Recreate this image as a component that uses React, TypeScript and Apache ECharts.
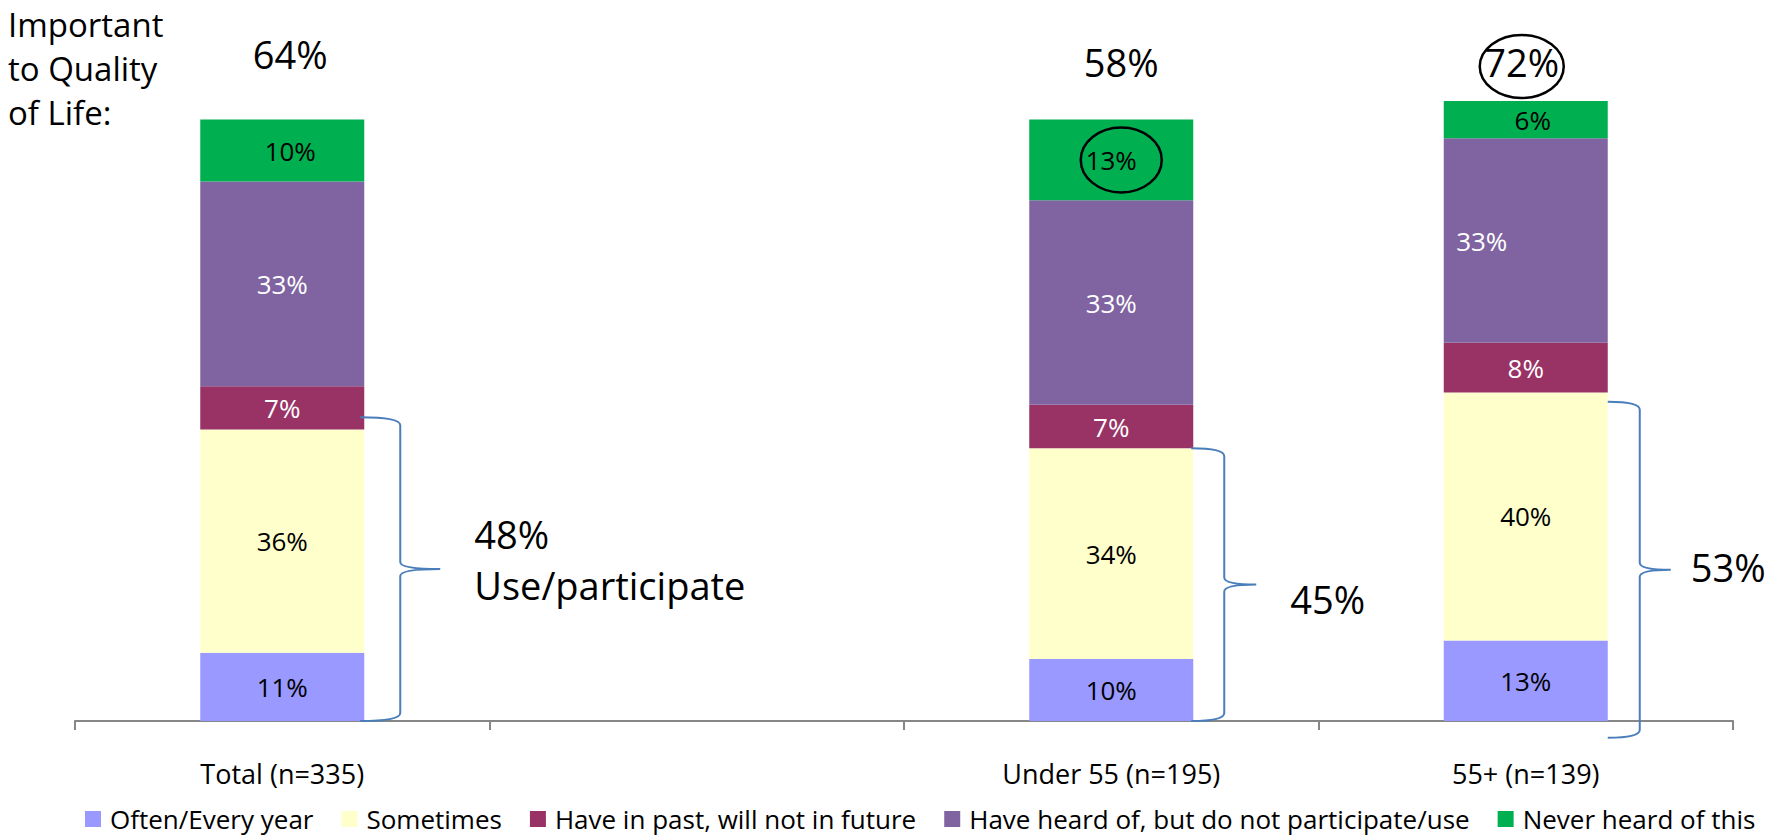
import React, { useEffect, useRef } from "react";
import * as echarts from "echarts";

// ---------- data ----------
const categories = ["Total (n=335)", "", "Under 55 (n=195)", "55+ (n=139)"];
const seriesNames = [
  "Often/Every year",
  "Sometimes",
  "Have in past, will not in future",
  "Have heard of, but do not participate/use",
  "Never heard of this",
];
const oftenValues = [11, null, 10, 13];
const sometimesValues = [36, null, 34, 40];
const pastValues = [7, null, 7, 8];
const heardValues = [33, null, 33, 33];
const neverValues = [10, null, 13, 6];
const importantLabels = ["64%", null, "58%", "72%"];
const useLabels = ["48%\nUse/participate", null, "45%", "53%"];
const braceTop = [49, null, 44, 51.5];
const braceBottom = [0, null, 0, -2.7];
const sideTitle = ["Important", "to Quality", "of Life:"];

// ---------- style / layout ----------
const FONT = "'Open Sans', sans-serif";
const colors = ["#9999FF", "#FFFFCC", "#993366", "#8064A2", "#00B050"];
const labelColors = ["#000", "#000", "#fff", "#fff", "#000"];
const BAR_W = 164;
const topLabelLayout = [
  { dx: 8, y: 53.5 },
  null,
  { dx: 10, y: 62 },
  { dx: -4, y: 62 },
];
const braceLayout = [
  { start: -4, vert: 36, tip: 76, lx: 34, ly: -9.5 },
  null,
  { start: -2, vert: 31, tip: 63, lx: 34, ly: 14 },
  { start: 0, vert: 32, tip: 63, lx: 20, ly: -3 },
];
const labelOffsets: Record<string, number[]> = {
  "4-0": [8, 0],
  "4-3": [7, 0],
  "3-3": [-44, 0],
};

const allValues = [oftenValues, sometimesValues, pastValues, heardValues, neverValues];

export default function App() {
  const ref = useRef<HTMLDivElement>(null);
  useEffect(() => {
    if (!ref.current) return;
    const chart = echarts.init(ref.current, null, { renderer: "svg" });

    const barSeries = allValues.map((vals, s) => ({
      name: seriesNames[s],
      type: "bar",
      stack: "total",
      barWidth: BAR_W,
      itemStyle: { color: colors[s] },
      label: {
        show: true,
        position: "inside",
        formatter: "{c}%",
        fontSize: 26,
        fontFamily: FONT,
        color: labelColors[s],
      },
      data: vals.map((v, i) => {
        if (v == null) return null;
        const off = labelOffsets[`${s}-${i}`];
        return off ? { value: v, label: { offset: off } } : v;
      }),
    }));

    const braceData = categories
      .map((_, i) => (braceTop[i] == null ? null : [i, braceTop[i], braceBottom[i]]))
      .filter((d) => d != null);

    const braceSeries = {
      type: "custom",
      name: "brace",
      silent: true,
      z: 5,
      encode: { x: 0, y: [1, 2] },
      data: braceData,
      renderItem: (params: any, api: any) => {
        const i = api.value(0);
        const lay = braceLayout[i]!;
        const pTop = api.coord([i, api.value(1)]);
        const pBot = api.coord([i, api.value(2)]);
        const right = pTop[0] + BAR_W / 2;
        const x0 = right + lay.start;
        const xv = right + lay.vert;
        const xt = right + lay.tip;
        const t = pTop[1];
        const b = pBot[1];
        const m = (t + b) / 2;
        const d =
          `M${x0},${t} Q${xv},${t} ${xv},${t + 8} L${xv},${m - 7} Q${xv},${m} ${xt},${m} ` +
          `Q${xv},${m} ${xv},${m + 7} L${xv},${b - 8} Q${xv},${b} ${x0},${b}`;
        return {
          type: "group",
          children: [
            {
              type: "path",
              shape: { pathData: d },
              style: { stroke: "#4A7EBB", lineWidth: 2, fill: "none" },
            },
            {
              type: "text",
              x: xt + lay.lx,
              y: m + lay.ly,
              style: {
                text: useLabels[i],
                fontSize: 38,
                fontFamily: FONT,
                fill: "#000",
                align: "left",
                verticalAlign: "middle",
                lineHeight: 51,
              },
            },
          ],
        };
      },
    };

    chart.setOption({
      animation: false,
      backgroundColor: "#fff",
      grid: { left: 75, right: 47, top: 101, bottom: 116, containLabel: false },
      legend: {
        data: seriesNames,
        left: 80,
        top: 801,
        icon: "rect",
        itemWidth: 16,
        itemHeight: 16,
        itemGap: 28,
        textStyle: { fontSize: 26, fontFamily: FONT, color: "#000", padding: [0, 0, 0, 4] },
        selectedMode: false,
      },
      xAxis: {
        type: "category",
        data: categories,
        axisLine: { lineStyle: { color: "#868686", width: 2 } },
        axisTick: { show: true, length: 9, lineStyle: { color: "#868686", width: 2 } },
        axisLabel: { interval: 0, fontSize: 27, fontFamily: FONT, color: "#000", margin: 39 },
      },
      yAxis: { type: "value", min: 0, max: 100, show: false },
      series: [...barSeries, braceSeries],
    });

    const px = (i: number, v: number) => chart.convertToPixel({ gridIndex: 0 }, [i, v]) as number[];
    const graphics: any[] = [];
    sideTitle.forEach((line, k) => {
      graphics.push({
        type: "text",
        x: 8,
        y: 24 + k * 44,
        style: { text: line, fontSize: 33, fontFamily: FONT, fill: "#000", verticalAlign: "middle" },
      });
    });
    importantLabels.forEach((lab, i) => {
      if (lab == null) return;
      const lay = topLabelLayout[i]!;
      const p = px(i, 0);
      graphics.push({
        type: "text",
        x: p[0] + lay.dx,
        y: lay.y,
        style: { text: lab, fontSize: 38, fontFamily: FONT, fill: "#000", align: "center", verticalAlign: "middle" },
      });
    });
    // circled "72%" top label
    {
      const i = 3;
      const p = px(i, 0);
      graphics.push({
        type: "ellipse",
        shape: { cx: p[0] + topLabelLayout[i]!.dx, cy: topLabelLayout[i]!.y + 4.5, rx: 42, ry: 31.5 },
        style: { fill: "none", stroke: "#000", lineWidth: 2.5 },
      });
    }
    // circled "13%" segment (Under 55, never heard)
    {
      const i = 2;
      const base = oftenValues[i]! + sometimesValues[i]! + pastValues[i]! + heardValues[i]!;
      const p = px(i, base + neverValues[i]! / 2);
      graphics.push({
        type: "ellipse",
        shape: { cx: p[0] + 10, cy: p[1], rx: 40.5, ry: 32.5 },
        style: { fill: "none", stroke: "#000", lineWidth: 2.5 },
        z: 10,
      });
    }
    chart.setOption({ graphic: graphics });

    return () => chart.dispose();
  }, []);
  return <div ref={ref} style={{ position: "fixed", left: 0, top: 0, width: 1780, height: 837 }} />;
}
